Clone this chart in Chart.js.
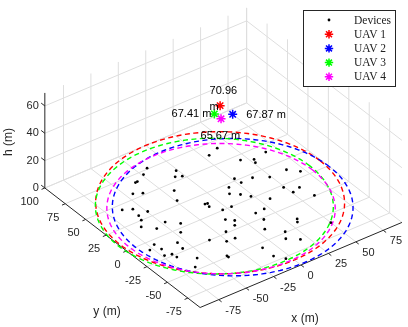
<!DOCTYPE html>
<html>
<head>
<meta charset="utf-8">
<script src="https://cdn.jsdelivr.net/npm/chart.js@4/dist/chart.umd.min.js"></script>
<style>
  body { margin: 0; background: #fff; }
  canvas { display: block; }
</style>
</head>
<body>
<canvas id="chart" width="408" height="327"></canvas>
<script>
// Tick values (m)
const xTicks = [-75, -50, -25, 0, 25, 50, 75];
const yTicks = [-75, -50, -25, 0, 25, 50, 75, 100];
const hTicks = [0, 20, 40, 60];

// Ground devices (x, y in m, h = 0)
const deviceX = [40.0, 29.8, 44.6, 53.1, 51.4, 65.6, -16.6, -23.6, -1.4, -6.7, -2.0, 26.8, 38.2, 48.8, 27.8, 64.3,
  71.3, -34.5, -32.6, -17.8, 16.9, 49.1, 58.4, -44.6, -38.2, 12.3, 18.3, 23.0, 32.5, 51.1, 61.1, -23.7,
  -10.0, -8.0, -9.5, 3.7, -63.2, -56.4, -49.4, -4.0, 13.0, 21.2, -57.9, -59.8, -47.2, -39.1, -9.8, -5.0,
  12.9, 33.0, 30.7, -65.0, -57.1, -8.7, 6.1, 49.9, -45.9, -18.8, 16.1, -34.9, -25.7, -18.3, 11.1, 19.2,
  -70.9, -55.7, -77.6, -70.0, -57.1, -9.5, -67.8, -73.2, -67.1, -36.6, -36.7, -55.9, -9.4, -4.1, -63.9];
const deviceY = [66.2, 62.4, 43.9, 38.7, 34.8, 41.2, 76.1, 71.1, 60.9, 55.0, 52.6, 27.4, 20.6, 13.8, 20.5, 14.1,
  6.4, 66.3, 66.5, 41.3, 20.9, -2.8, -9.7, 55.9, 52.2, 14.0, 8.6, 2.1, -8.5, -11.9, -24.4, 29.8,
  14.1, 13.6, 9.6, 0.0, 44.0, 40.1, 31.3, 0.5, -17.1, -16.5, 30.9, 25.2, 12.9, 4.8, -10.6, -15.6,
  -27.2, -41.0, -44.4, 18.3, 9.9, -20.6, -37.5, -59.5, -4.4, -23.4, -49.0, -24.8, -33.5, -33.9, -56.5, -63.5,
  -5.5, -13.6, -9.2, -13.3, -21.8, -55.7, -23.1, -21.2, -28.1, -48.5, -50.5, -37.9, -69.0, -77.0, -46.3];

// UAVs
const uavNames = ['UAV 1', 'UAV 2', 'UAV 3', 'UAV 4'];
const uavX = [0, 4, -6, -4];
const uavY = [9, -1, 8, 2.5];
const uavH = [70.96, 67.87, 67.41, 65.67];
const uavRadius = [91, 88, 87, 83.5];
const uavColors = ['#ff0000', '#0000ff', '#00ff00', '#ff00ff'];

// 3D box and view
const box = { xmin: -92, xmax: 92, ymin: -90, ymax: 100, zmax: 69.5 };
const corner = { x: 200, y: 313 };           // screen spot of (xmin, ymin, 0)
const ex = [1.13, -0.48], ey = [-0.842, -0.653], ez = [0, -1.42];

function project(x, y, z) {
  const u = x - box.xmin, v = y - box.ymin;
  return {
    x: corner.x + u * ex[0] + v * ey[0] + z * ez[0],
    y: corner.y + u * ex[1] + v * ey[1] + z * ez[1]
  };
}

const GAP = { x: NaN, y: NaN };
function addSeg(list, a, b) {
  list.push(project(...a), project(...b), GAP);
}

// grid lines on floor and back walls
const gridPts = [];
const { xmin, xmax, ymin, ymax, zmax } = box;
xTicks.forEach(x => addSeg(gridPts, [x, ymin, 0], [x, ymax, 0]));
yTicks.forEach(y => addSeg(gridPts, [xmin, y, 0], [xmax, y, 0]));
xTicks.forEach(x => addSeg(gridPts, [x, ymax, 0], [x, ymax, zmax]));
hTicks.forEach(z => addSeg(gridPts, [xmin, ymax, z], [xmax, ymax, z]));
yTicks.forEach(y => addSeg(gridPts, [xmax, y, 0], [xmax, y, zmax]));
hTicks.forEach(z => addSeg(gridPts, [xmax, ymin, z], [xmax, ymax, z]));
addSeg(gridPts, [xmax, ymax, 0], [xmax, ymax, zmax]);

// axis lines and tick marks
const axisPts = [];
addSeg(axisPts, [xmin, ymax, 0], [xmin, ymin, 0]);
addSeg(axisPts, [xmin, ymin, 0], [xmax, ymin, 0]);
addSeg(axisPts, [xmin, ymax, 0], [xmin, ymax, zmax]);
yTicks.forEach(y => addSeg(axisPts, [xmin, y, 0], [xmin - 3, y, 0]));
xTicks.forEach(x => addSeg(axisPts, [x, ymin, 0], [x, ymin - 3.5, 0]));
hTicks.forEach(z => addSeg(axisPts, [xmin, ymax, z], [xmin, ymax + 4.5, z]));

const devicePts = deviceX.map((x, i) => project(x, deviceY[i], 0));

function circlePts(i) {
  const pts = [];
  for (let k = 0; k <= 160; k++) {
    const t = k / 160 * 2 * Math.PI;
    pts.push(project(uavX[i] + uavRadius[i] * Math.cos(t), uavY[i] + uavRadius[i] * Math.sin(t), 0));
  }
  return pts;
}

const datasets = [
  { data: gridPts, showLine: true, borderColor: '#dedede', borderWidth: 1, pointRadius: 0, order: 20 },
  { data: axisPts, showLine: true, borderColor: '#262626', borderWidth: 1, pointRadius: 0, order: 19 },
  { data: devicePts, pointRadius: 1.4, backgroundColor: '#000', borderWidth: 0, order: 6 }
];
uavNames.forEach((name, i) => {
  datasets.push({
    data: circlePts(i), showLine: true, borderColor: uavColors[i], borderWidth: 1.4,
    borderDash: [5, 3.5], pointRadius: 0, order: 10 - i
  });
  datasets.push({
    label: name, data: [project(uavX[i], uavY[i], uavH[i])], pointStyle: 'star',
    pointRadius: 4.5, borderColor: uavColors[i], borderWidth: 1.5, order: 1
  });
});

// label offsets around each UAV marker (px)
const uavLabelPos = [
  { dx: -10.5, dy: -15, align: 'left', wrap: true },
  { dx: 13.5, dy: 1, align: 'left' },
  { dx: -3, dy: 0, align: 'right' },
  { dx: -20.5, dy: 17, align: 'left' }
];

const labelPlugin = {
  id: 'labels3d',
  afterDatasetsDraw(chart) {
    const ctx = chart.ctx;
    const sx = chart.scales.x, sy = chart.scales.y;
    const pix = p => [sx.getPixelForValue(p.x), sy.getPixelForValue(p.y)];
    ctx.save();
    ctx.fillStyle = '#262626';
    ctx.font = '11px "Liberation Sans", Arial, sans-serif';
    ctx.textBaseline = 'middle';

    ctx.textAlign = 'right';
    yTicks.forEach(y => {
      const [px, py] = pix(project(xmin, y, 0));
      ctx.fillText(String(y), px - 6, py + 14);
    });
    hTicks.forEach(z => {
      const [px, py] = pix(project(xmin, ymax, z));
      ctx.fillText(String(z), px - 6, py);
    });
    ctx.textAlign = 'left';
    xTicks.forEach(x => {
      const [px, py] = pix(project(x, ymin, 0));
      ctx.fillText(String(x), px + 6.5, py + 11);
    });

    // axis titles
    ctx.font = '12px "Liberation Sans", Arial, sans-serif';
    ctx.textAlign = 'center';
    ctx.fillText('y (m)', 107, 312);
    ctx.fillText('x (m)', 305, 319);
    ctx.save();
    ctx.translate(9, 142);
    ctx.rotate(-Math.PI / 2);
    ctx.fillText('h (m)', 0, 0);
    ctx.restore();

    // UAV height labels
    ctx.fillStyle = '#000';
    ctx.font = '11px "Liberation Sans", Arial, sans-serif';
    uavH.forEach((h, i) => {
      const [px, py] = pix(project(uavX[i], uavY[i], h));
      const o = uavLabelPos[i];
      ctx.textAlign = o.align;
      if (o.wrap) {
        ctx.fillText(h.toFixed(2), px + o.dx, py + o.dy);
        ctx.fillText('m', px + o.dx, py + o.dy + 16);
      } else {
        ctx.fillText(h.toFixed(2) + ' m', px + o.dx, py + o.dy);
      }
    });

    // legend
    const lx = 303.5, ly = 10.5, lw = 92, lh = 76;
    ctx.fillStyle = '#fff';
    ctx.fillRect(lx, ly, lw, lh);
    ctx.strokeStyle = '#262626';
    ctx.lineWidth = 1;
    ctx.strokeRect(lx, ly, lw, lh);
    const rows = ['Devices'].concat(uavNames);
    ctx.font = '11.5px "Liberation Serif", "DejaVu Serif", serif';
    ctx.textAlign = 'left';
    rows.forEach((name, r) => {
      const yy = 20 + r * 14.2;
      if (r === 0) {
        ctx.fillStyle = '#000';
        ctx.beginPath();
        ctx.arc(329, yy, 1.4, 0, 2 * Math.PI);
        ctx.fill();
      } else {
        const c = uavColors[r - 1], rr = 4.2, d = rr * Math.SQRT1_2;
        ctx.strokeStyle = c;
        ctx.lineWidth = 1.5;
        ctx.beginPath();
        ctx.moveTo(329 - rr, yy); ctx.lineTo(329 + rr, yy);
        ctx.moveTo(329, yy - rr); ctx.lineTo(329, yy + rr);
        ctx.moveTo(329 - d, yy - d); ctx.lineTo(329 + d, yy + d);
        ctx.moveTo(329 - d, yy + d); ctx.lineTo(329 + d, yy - d);
        ctx.stroke();
      }
      ctx.fillStyle = '#222';
      ctx.fillText(name, 354, yy + 0.5);
    });
    ctx.restore();
  }
};

new Chart(document.getElementById('chart').getContext('2d'), {
  type: 'scatter',
  data: { datasets },
  options: {
    responsive: false,
    animation: false,
    layout: { padding: 0 },
    scales: {
      x: { type: 'linear', min: 0, max: 408, display: false },
      y: { type: 'linear', min: 0, max: 327, reverse: true, display: false }
    },
    plugins: { legend: { display: false }, tooltip: { enabled: false } }
  },
  plugins: [labelPlugin]
});
</script>
</body>
</html>
